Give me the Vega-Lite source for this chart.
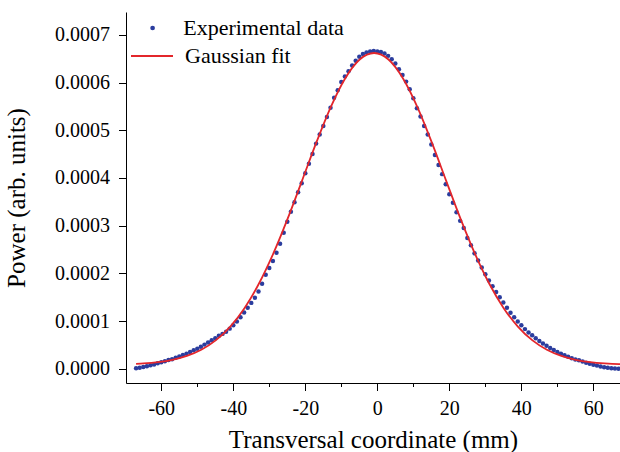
{
  "$schema": "https://vega.github.io/schema/vega-lite/v6.json",
  "autosize": {"type": "none"},
  "padding": {"left": 126, "top": 12, "right": 0, "bottom": 69},
  "width": 494,
  "height": 371,
  "background": "white",
  "config": {
    "view": {"stroke": null},
    "font": "Liberation Serif, Times New Roman, serif",
    "style": {"guide-label": {"font": "Liberation Serif, Times New Roman, serif", "fontWeight": "normal"}},
    "axis": {
      "domainColor": "black", "tickColor": "black", "labelColor": "black", "titleColor": "black",
      "labelFont": "Liberation Serif, Times New Roman, serif",
      "titleFont": "Liberation Serif, Times New Roman, serif",
      "labelFontSize": 20, "titleFontSize": 25, "titleFontWeight": "normal",
      "grid": false, "domainWidth": 1, "tickWidth": 1
    },
    "legend": {
      "labelFont": "Liberation Serif, Times New Roman, serif", "labelFontSize": 22, "labelColor": "black", "labelLimit": 400,
      "labelFontWeight": "normal", "title": null, "orient": "none", "padding": 0
    }
  },
  "datasets": {
    "pts": [
      {"x": -67, "y": 0.01e-4}, {"x": -66, "y": 0.02e-4}, {"x": -65, "y": 0.035e-4}, {"x": -64, "y": 0.05e-4},
      {"x": -63, "y": 0.07e-4}, {"x": -62, "y": 0.09e-4}, {"x": -61, "y": 0.115e-4}, {"x": -60, "y": 0.135e-4},
      {"x": -59, "y": 0.155e-4}, {"x": -58, "y": 0.18e-4}, {"x": -57, "y": 0.2e-4}, {"x": -56, "y": 0.23e-4},
      {"x": -55, "y": 0.255e-4}, {"x": -54, "y": 0.285e-4}, {"x": -53, "y": 0.315e-4}, {"x": -52, "y": 0.35e-4},
      {"x": -51, "y": 0.385e-4}, {"x": -50, "y": 0.42e-4}, {"x": -49, "y": 0.46e-4}, {"x": -48, "y": 0.505e-4},
      {"x": -47, "y": 0.55e-4}, {"x": -46, "y": 0.595e-4}, {"x": -45, "y": 0.64e-4}, {"x": -44, "y": 0.69e-4},
      {"x": -43, "y": 0.73e-4}, {"x": -42, "y": 0.776e-4}, {"x": -41, "y": 0.84e-4}, {"x": -40, "y": 0.91e-4},
      {"x": -39, "y": 0.99e-4}, {"x": -38, "y": 1.08e-4}, {"x": -37, "y": 1.18e-4}, {"x": -36, "y": 1.28e-4},
      {"x": -35, "y": 1.38e-4}, {"x": -34, "y": 1.49e-4}, {"x": -33, "y": 1.62e-4}, {"x": -32, "y": 1.78e-4},
      {"x": -31, "y": 1.97e-4}, {"x": -30, "y": 2.11e-4}, {"x": -29, "y": 2.26e-4}, {"x": -28, "y": 2.43e-4},
      {"x": -27, "y": 2.62e-4}, {"x": -26, "y": 2.85e-4}, {"x": -25, "y": 3.08e-4}, {"x": -24, "y": 3.29e-4},
      {"x": -23, "y": 3.49e-4}, {"x": -22, "y": 3.7e-4}, {"x": -21, "y": 3.89e-4}, {"x": -20, "y": 4.1e-4},
      {"x": -19, "y": 4.3e-4}, {"x": -18, "y": 4.5e-4}, {"x": -17, "y": 4.72e-4}, {"x": -16, "y": 4.91e-4},
      {"x": -15, "y": 5.09e-4}, {"x": -14, "y": 5.28e-4}, {"x": -13, "y": 5.47e-4}, {"x": -12, "y": 5.68e-4},
      {"x": -11, "y": 5.84e-4}, {"x": -10, "y": 6.01e-4}, {"x": -9, "y": 6.13e-4}, {"x": -8, "y": 6.24e-4},
      {"x": -7, "y": 6.36e-4}, {"x": -6, "y": 6.46e-4}, {"x": -5, "y": 6.54e-4}, {"x": -4, "y": 6.6e-4},
      {"x": -3, "y": 6.63e-4}, {"x": -2, "y": 6.65e-4}, {"x": -1, "y": 6.66e-4}, {"x": 0, "y": 6.65e-4},
      {"x": 1, "y": 6.64e-4}, {"x": 2, "y": 6.61e-4}, {"x": 3, "y": 6.56e-4}, {"x": 4, "y": 6.49e-4},
      {"x": 5, "y": 6.4e-4}, {"x": 6, "y": 6.28e-4}, {"x": 7, "y": 6.16e-4}, {"x": 8, "y": 6.02e-4},
      {"x": 9, "y": 5.86e-4}, {"x": 10, "y": 5.67e-4}, {"x": 11, "y": 5.46e-4}, {"x": 12, "y": 5.29e-4},
      {"x": 13, "y": 5.09e-4}, {"x": 14, "y": 4.91e-4}, {"x": 15, "y": 4.7e-4}, {"x": 16, "y": 4.48e-4},
      {"x": 17, "y": 4.27e-4}, {"x": 18, "y": 4.08e-4}, {"x": 19, "y": 3.87e-4}, {"x": 20, "y": 3.66e-4},
      {"x": 21, "y": 3.48e-4}, {"x": 22, "y": 3.28e-4}, {"x": 23, "y": 3.1e-4}, {"x": 24, "y": 2.95e-4},
      {"x": 25, "y": 2.74e-4}, {"x": 26, "y": 2.59e-4}, {"x": 27, "y": 2.42e-4}, {"x": 28, "y": 2.27e-4},
      {"x": 29, "y": 2.12e-4}, {"x": 30, "y": 1.98e-4}, {"x": 31, "y": 1.85e-4}, {"x": 32, "y": 1.73e-4},
      {"x": 33, "y": 1.61e-4}, {"x": 34, "y": 1.5e-4}, {"x": 35, "y": 1.39e-4}, {"x": 36, "y": 1.28e-4},
      {"x": 37, "y": 1.175e-4}, {"x": 38, "y": 1.08e-4}, {"x": 39, "y": 0.99e-4}, {"x": 40, "y": 0.91e-4},
      {"x": 41, "y": 0.83e-4}, {"x": 42, "y": 0.76e-4}, {"x": 43, "y": 0.7e-4}, {"x": 44, "y": 0.64e-4},
      {"x": 45, "y": 0.58e-4}, {"x": 46, "y": 0.53e-4}, {"x": 47, "y": 0.48e-4}, {"x": 48, "y": 0.435e-4},
      {"x": 49, "y": 0.39e-4}, {"x": 50, "y": 0.35e-4}, {"x": 51, "y": 0.315e-4}, {"x": 52, "y": 0.28e-4},
      {"x": 53, "y": 0.25e-4}, {"x": 54, "y": 0.22e-4}, {"x": 55, "y": 0.195e-4}, {"x": 56, "y": 0.175e-4},
      {"x": 57, "y": 0.15e-4}, {"x": 58, "y": 0.125e-4}, {"x": 59, "y": 0.105e-4}, {"x": 60, "y": 0.085e-4},
      {"x": 61, "y": 0.065e-4}, {"x": 62, "y": 0.045e-4}, {"x": 63, "y": 0.03e-4}, {"x": 64, "y": 0.02e-4},
      {"x": 65, "y": 0.01e-4}, {"x": 66, "y": 0.005e-4}, {"x": 67, "y": 0.0}
    ],
    "fit": [
      {"x": -67, "y": 0.101e-4}, {"x": -64.9, "y": 0.11e-4}, {"x": -60.9, "y": 0.138e-4}, {"x": -56.9, "y": 0.186e-4},
      {"x": -52.9, "y": 0.267e-4}, {"x": -48.9, "y": 0.396e-4}, {"x": -44.9, "y": 0.593e-4}, {"x": -40.9, "y": 0.878e-4},
      {"x": -36.9, "y": 1.27e-4}, {"x": -32.9, "y": 1.781e-4}, {"x": -28.9, "y": 2.413e-4}, {"x": -24.9, "y": 3.147e-4},
      {"x": -20.9, "y": 3.945e-4}, {"x": -16.9, "y": 4.751e-4}, {"x": -12.9, "y": 5.492e-4}, {"x": -8.9, "y": 6.092e-4},
      {"x": -4.9, "y": 6.484e-4}, {"x": -0.9, "y": 6.62e-4}, {"x": 3.1, "y": 6.484e-4}, {"x": 7.1, "y": 6.092e-4},
      {"x": 11.1, "y": 5.492e-4}, {"x": 15.1, "y": 4.751e-4}, {"x": 19.1, "y": 3.945e-4}, {"x": 23.1, "y": 3.147e-4},
      {"x": 27.1, "y": 2.413e-4}, {"x": 31.1, "y": 1.781e-4}, {"x": 35.1, "y": 1.27e-4}, {"x": 39.1, "y": 0.878e-4},
      {"x": 43.1, "y": 0.593e-4}, {"x": 47.1, "y": 0.396e-4}, {"x": 51.1, "y": 0.267e-4}, {"x": 55.1, "y": 0.186e-4},
      {"x": 59.1, "y": 0.138e-4}, {"x": 63.1, "y": 0.11e-4}, {"x": 67.1, "y": 0.095e-4}, {"x": 68, "y": 0.094e-4}
    ]
  },
  "layer": [
    {
      "data": {"name": "pts"},
      "transform": [{"calculate": "'Experimental data'", "as": "series"}],
      "mark": {"type": "point", "filled": true, "size": 20, "opacity": 1, "clip": true, "shape": "circle"},
      "encoding": {
        "x": {
          "field": "x", "type": "quantitative",
          "scale": {"domain": [-69.8, 67.4], "nice": false, "zero": false},
          "axis": {
            "title": "Transversal coordinate (mm)",
            "values": [-60, -50, -40, -30, -20, -10, 0, 10, 20, 30, 40, 50, 60],
            "labelExpr": "datum.value % 20 === 0 ? '' + datum.value : ''",
            "tickSize": {"condition": {"test": "datum.value % 20 === 0", "value": 7.5}, "value": 3.5},
            "labelPadding": 8, "titlePadding": 9, "labelFlush": false
          }
        },
        "y": {
          "field": "y", "type": "quantitative",
          "scale": {"domain": [-0.00003, 0.000748], "nice": false, "zero": false},
          "axis": {
            "title": "Power (arb. units)",
            "values": [0, 0.00005, 0.0001, 0.00015, 0.0002, 0.00025, 0.0003, 0.00035, 0.0004, 0.00045, 0.0005, 0.00055, 0.0006, 0.00065, 0.0007],
            "labelExpr": "round(datum.value * 100000) % 2 === 0 ? format(datum.value, '.4f') : ''",
            "tickSize": {"condition": {"test": "round(datum.value * 100000) % 2 === 0", "value": 7.5}, "value": 3.5},
            "labelPadding": 9, "titlePadding": 25, "labelFlush": false
          }
        },
        "fill": {
          "field": "series", "type": "nominal",
          "scale": {"domain": ["Experimental data"], "range": ["#2B3D9E"]},
          "legend": {
            "legendX": 15.6, "legendY": 5,
            "symbolType": "circle", "symbolSize": 22, "labelOffset": 19.6
          }
        }
      }
    },
    {
      "data": {"name": "fit"},
      "transform": [{"calculate": "'Gaussian fit'", "as": "series"}],
      "mark": {"type": "line", "strokeWidth": 1.8, "interpolate": "monotone", "clip": true},
      "encoding": {
        "x": {"field": "x", "type": "quantitative"},
        "y": {"field": "y", "type": "quantitative"},
        "stroke": {
          "field": "series", "type": "nominal",
          "scale": {"domain": ["Gaussian fit"], "range": ["#E3262B"]},
          "legend": {
            "legendX": 4, "legendY": 22,
            "symbolType": "stroke", "symbolSize": 1764, "symbolStrokeWidth": 1.8, "labelOffset": 11
          }
        }
      }
    },
    {
      "mark": {"type": "rule", "color": "black", "strokeWidth": 1},
      "encoding": {"y": {"datum": 0.000748}}
    }
  ]
}
